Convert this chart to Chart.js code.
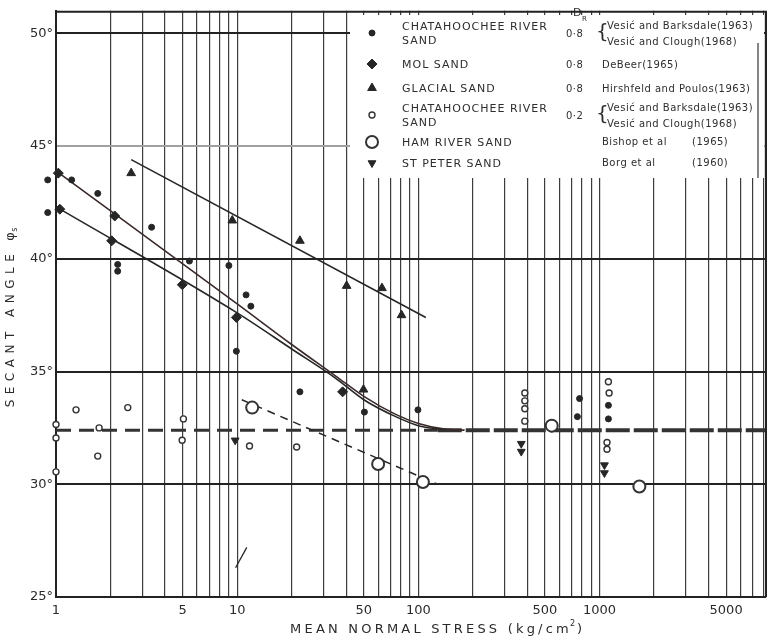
<!DOCTYPE html>
<html>
<head>
<meta charset="utf-8">
<script src="https://cdn.jsdelivr.net/npm/chart.js@4.4.1/dist/chart.umd.min.js"></script>
<style>
  html, body { margin: 0; background: #fff; }
  canvas { display: block; }
</style>
</head>
<body>
<canvas id="chart" width="774" height="640"></canvas>
<script>
// ---- measured points, secant friction angle (deg) vs mean normal stress (kg/cm2) ----
// Chatahoochee River sand, Dr 0.8
const chat08X = [0.9, 0.9, 1.22, 1.7, 2.19, 2.19, 3.37, 5.45, 9.0, 11.2, 11.9, 9.9, 22.2, 50.4, 99.5, 776, 755, 1120, 1120];
const chat08Y = [43.5, 42.05, 43.5, 42.9, 39.75, 39.45, 41.4, 39.9, 39.7, 38.4, 37.9, 35.9, 34.1, 33.2, 33.3, 33.8, 33.0, 33.5, 32.9];
// Mol sand
const molX = [1.03, 1.05, 2.11, 2.03, 4.98, 9.9, 38.2];
const molY = [43.8, 42.2, 41.9, 40.8, 38.85, 37.4, 34.1];
// Glacial sand
const glacialX = [2.6, 9.4, 22.2, 40.2, 63, 80.8, 49.8];
const glacialY = [43.8, 41.7, 40.8, 38.8, 38.7, 37.5, 34.2];
// Chatahoochee River sand, Dr 0.2
const chat02X = [1.29, 2.49, 1.0, 1.0, 1.0, 1.73, 1.70, 5.05, 4.97, 11.7, 21.3, 387, 387, 387, 387, 1120, 1130, 1100, 1100];
const chat02Y = [33.3, 33.4, 32.65, 32.05, 30.55, 32.5, 31.25, 32.9, 31.95, 31.7, 31.65, 34.05, 33.7, 33.35, 32.8, 34.55, 34.05, 31.85, 31.55];
// Ham River sand
const hamX = [12.1, 60, 106, 545, 1660];
const hamY = [33.4, 30.9, 30.1, 32.6, 29.9];
// St Peter sand
const stPeterX = [9.75, 370, 370, 1065, 1065];
const stPeterY = [31.95, 31.8, 31.45, 30.85, 30.5];

// ---- fitted curves ----
const glacialFitX = [2.6, 110];
const glacialFitY = [44.4, 37.4];
const upperFitX = [1, 10, 20, 35, 50, 75, 100, 140, 180];
const upperFitY = [43.9, 38.0, 36.2, 34.8, 33.9, 33.1, 32.7, 32.45, 32.4];
const lowerFitX = [1.03, 10, 20, 35, 50, 75, 100, 140];
const lowerFitY = [42.25, 37.6, 36.0, 34.7, 33.75, 33.0, 32.6, 32.42];
const hamFitX = [10.6, 128];
const hamFitY = [33.75, 30.0];
const critAngle = 32.4;           // constant angle at high stress
const critLowX = [1, 128];
const critHighX = [128, 8300];
const slashX = [9.8, 11.3];
const slashY = [26.3, 27.2];

// ---- axes ----
const xMin = 1, xMax = 8300;
const yMin = 25, yMax = 51;
const xTickLabels = [1, 5, 10, 50, 100, 500, 1000, 5000];
const yTicks = [25, 30, 35, 40, 45, 50];

// ---- key text ----
const keyNames = [['CHATAHOOCHEE RIVER', 'SAND'], ['MOL SAND'], ['GLACIAL SAND'], ['CHATAHOOCHEE RIVER', 'SAND'], ['HAM RIVER SAND'], ['ST PETER SAND']];
const keyDr = ['0·8', '0·8', '0·8', '0·2', '', ''];
const keyRefs = [
  ['Vesić and Barksdale(1963)', 'Vesić and Clough(1968)'],
  ['DeBeer(1965)'],
  ['Hirshfeld and Poulos(1963)'],
  ['Vesić and Barksdale(1963)', 'Vesić and Clough(1968)'],
  ['Bishop et al', '(1965)'],
  ['Borg et al', '(1960)'],
];

const INK = '#262626';
const pts = (xs, ys) => xs.map((x, i) => ({ x, y: ys[i] }));

const markerStyles = [
  { pointStyle: 'circle', pointRadius: 3, backgroundColor: INK, borderColor: INK, borderWidth: 1 },
  { pointStyle: 'rectRot', pointRadius: 5, backgroundColor: INK, borderColor: INK, borderWidth: 1 },
  { pointStyle: 'triangle', pointRadius: 5, backgroundColor: INK, borderColor: INK, borderWidth: 1 },
  { pointStyle: 'circle', pointRadius: 3, backgroundColor: '#fff', borderColor: '#333', borderWidth: 1.4 },
  { pointStyle: 'circle', pointRadius: 6, backgroundColor: '#fff', borderColor: '#333', borderWidth: 2 },
  { pointStyle: 'triangle', pointRadius: 4.5, rotation: 180, backgroundColor: INK, borderColor: INK, borderWidth: 1 },
];

function markers(label, xs, ys, style) {
  return {
    label, data: pts(xs, ys), showLine: false, clip: false,
    pointStyle: style.pointStyle, pointRadius: style.pointRadius, pointRotation: style.rotation || 0,
    pointBackgroundColor: style.backgroundColor, pointBorderColor: style.borderColor,
    pointBorderWidth: style.borderWidth,
  };
}

function curve(label, xs, ys, opts) {
  return Object.assign({
    label, data: pts(xs, ys), showLine: true, pointRadius: 0, clip: false,
    borderColor: INK, borderWidth: 1.6, fill: false,
  }, opts);
}

const datasets = [
  markers('Chatahoochee River sand 0.8', chat08X, chat08Y, markerStyles[0]),
  markers('Mol sand', molX, molY, markerStyles[1]),
  markers('Glacial sand', glacialX, glacialY, markerStyles[2]),
  markers('Chatahoochee River sand 0.2', chat02X, chat02Y, markerStyles[3]),
  markers('Ham River sand', hamX, hamY, markerStyles[4]),
  markers('St Peter sand', stPeterX, stPeterY, markerStyles[5]),
  curve('glacial fit', glacialFitX, glacialFitY, {}),
  curve('upper fit', upperFitX, upperFitY, { cubicInterpolationMode: 'monotone', borderColor: '#3a2a2a' }),
  curve('lower fit', lowerFitX, lowerFitY, { cubicInterpolationMode: 'monotone' }),
  curve('Ham River fit', hamFitX, hamFitY, { borderDash: [8, 6], borderWidth: 1.5 }),
  curve('constant angle (low)', critLowX, [critAngle, critAngle], { borderDash: [15, 8], borderWidth: 3, borderColor: '#333' }),
  curve('constant angle (high)', critHighX, [critAngle, critAngle], { borderDash: [24, 4], borderWidth: 4, borderColor: '#333' }),
  curve('mark', slashX, slashY, { borderWidth: 1.3 }),
];

// white key box, reference text, axis titles and outer frame
const paperPlugin = {
  id: 'paper',
  beforeDatasetsDraw(chart) {
    const { ctx, chartArea: ca } = chart;
    ctx.save();
    // key box covering the grid in the upper right
    ctx.fillStyle = '#fff';
    ctx.fillRect(350, 15, ca.right - 352, 163);
    ctx.strokeStyle = '#444';
    ctx.lineWidth = 1.3;
    ctx.beginPath();
    ctx.moveTo(758, 43); ctx.lineTo(758, 178);
    ctx.stroke();

    const rowY = [33, 64, 88, 115, 142, 163];
    ctx.textBaseline = 'middle';
    ctx.textAlign = 'left';
    rowY.forEach((y, i) => {
      const st = markerStyles[i];
      const opts = { pointStyle: st.pointStyle, radius: st.pointRadius, rotation: st.rotation || 0, borderWidth: st.borderWidth };
      ctx.fillStyle = st.backgroundColor;
      ctx.strokeStyle = st.borderColor;
      ctx.lineWidth = st.borderWidth;
      Chart.helpers.drawPoint(ctx, opts, 372, y);

      ctx.fillStyle = '#2e2e2e';
      ctx.font = '11px "DejaVu Sans"';
      ctx.letterSpacing = '1px';
      const names = keyNames[i];
      if (names.length === 2) {
        ctx.fillText(names[0], 402, y - 6);
        ctx.fillText(names[1], 402, y + 8);
      } else {
        ctx.fillText(names[0], 402, y + 1);
      }
      ctx.letterSpacing = '0.5px';
      ctx.font = '10px "DejaVu Sans"';
      if (keyDr[i]) ctx.fillText(keyDr[i], 566, y + 1);
      const refs = keyRefs[i];
      if (i === 0 || i === 3) {
        ctx.font = '20px "DejaVu Sans"';
        ctx.fillText('{', 596, y);
        ctx.font = '10px "DejaVu Sans"';
        ctx.fillText(refs[0], 607, y - 7);
        ctx.fillText(refs[1], 607, y + 9);
      } else if (refs.length === 2) {
        ctx.fillText(refs[0], 602, y);
        ctx.fillText(refs[1], 692, y);
      } else {
        ctx.fillText(refs[0], 602, y + 1);
      }
    });
    // relative density heading
    ctx.letterSpacing = '0px';
    ctx.font = '11px "DejaVu Sans"';
    ctx.fillText('D', 573, 13);
    ctx.font = '7px "DejaVu Sans"';
    ctx.fillText('R', 582, 19);
    ctx.restore();
  },
  afterDatasetsDraw(chart) {
    // markers sitting just left of the axis are skipped by the element's area check
    const { ctx, chartArea: ca } = chart;
    const whole = { left: 0, top: 0, right: chart.width, bottom: chart.height };
    chart.data.datasets.forEach((ds, i) => {
      if (ds.showLine) return;
      chart.getDatasetMeta(i).data.forEach((el) => {
        if (el.x < ca.left - 2) el.draw(ctx, whole);
      });
    });
  },
  afterDraw(chart) {
    const { ctx, chartArea: ca } = chart;
    ctx.save();
    // top and right edges of the frame
    ctx.strokeStyle = '#222';
    ctx.lineWidth = 2;
    ctx.beginPath();
    ctx.moveTo(ca.left, ca.top + 1); ctx.lineTo(ca.right, ca.top + 1);
    ctx.moveTo(ca.right, ca.top); ctx.lineTo(ca.right, ca.bottom);
    ctx.stroke();

    ctx.fillStyle = '#2a2a2a';
    ctx.textBaseline = 'middle';
    ctx.textAlign = 'left';

    // x-axis title
    ctx.font = '13px "DejaVu Sans"';
    ctx.letterSpacing = '3.2px';
    const xt = 'MEAN NORMAL STRESS (kg/cm';
    const wa = ctx.measureText(xt).width;
    const x0 = 437 - (wa + 12) / 2;
    ctx.fillText(xt, x0, 630);
    ctx.font = '8px "DejaVu Sans"';
    ctx.fillText('2', x0 + wa - 2, 624);
    ctx.font = '13px "DejaVu Sans"';
    ctx.fillText(')', x0 + wa + 5, 630);

    // y-axis title, rotated
    ctx.translate(11, 316);
    ctx.rotate(-Math.PI / 2);
    ctx.font = '12px "DejaVu Sans"';
    ctx.letterSpacing = '5.5px';
    const yt = 'SECANT ANGLE';
    const wy = ctx.measureText(yt).width;
    const total = wy + 24;
    const y0 = -total / 2;
    ctx.fillText(yt, y0, 0);
    ctx.letterSpacing = '0px';
    ctx.font = '13px "DejaVu Sans"';
    ctx.fillText('φ', y0 + wy + 8, 0);
    ctx.font = '8px "DejaVu Sans"';
    ctx.fillText('s', y0 + wy + 17, 4);
    ctx.restore();
  },
};

// grid values for the log axis: 1..9 in every decade
const xGrid = [];
for (let d = 1; d <= 1000; d *= 10) {
  for (let m = 1; m <= 9; m++) if (m * d <= xMax) xGrid.push(m * d);
}

new Chart(document.getElementById('chart'), {
  type: 'scatter',
  data: { datasets },
  options: {
    responsive: false,
    animation: false,
    layout: { padding: { top: 2, right: 4, left: 0, bottom: 0 } },
    plugins: { legend: { display: false }, tooltip: { enabled: false } },
    scales: {
      x: {
        type: 'logarithmic', min: xMin, max: xMax,
        afterFit(scale) { scale.height = 43; },
        afterBuildTicks(scale) { scale.ticks = xGrid.map(v => ({ value: v })); },
        ticks: {
          autoSkip: false, maxRotation: 0, padding: 6,
          color: '#2a2a2a', font: { family: 'DejaVu Sans', size: 13 },
          callback: (v) => xTickLabels.includes(v) ? String(v) : '',
        },
        grid: { color: '#3c3c3c', lineWidth: 1.2, drawTicks: false },
        border: { color: '#222', width: 2 },
      },
      y: {
        min: yMin, max: yMax,
        afterFit(scale) { scale.width = 56; },
        afterBuildTicks(scale) { scale.ticks = yTicks.map(v => ({ value: v })); },
        ticks: {
          padding: 3, color: '#2a2a2a', font: { family: 'DejaVu Sans', size: 13 },
          callback: (v) => v + '°',
        },
        grid: {
          drawTicks: false,
          color: (c) => c.tick && c.tick.value === 45 ? '#a0a0a0' : '#222',
          lineWidth: 2,
        },
        border: { color: '#222', width: 2 },
      },
    },
  },
  plugins: [paperPlugin],
});
</script>
</body>
</html>
